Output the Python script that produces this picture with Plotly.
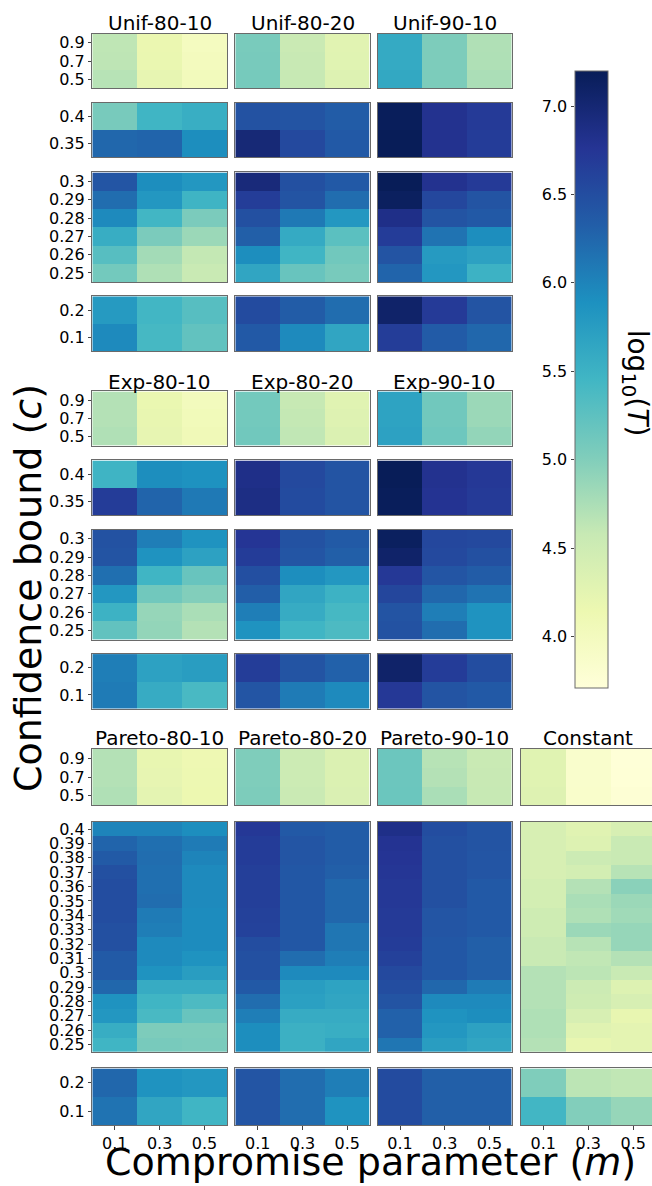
import plotly.graph_objects as go

W, H = 652, 1186
FONT = "DejaVu Sans"

# ---------------- labels ----------------
m_ticks = ["0.1", "0.3", "0.5"]
c_hi = ["0.9", "0.7", "0.5"]
c_mid = ["0.4", "0.35"]
c_low = ["0.3", "0.29", "0.28", "0.27", "0.26", "0.25"]
c_bot = ["0.2", "0.1"]
c_wide = ["0.4", "0.39", "0.38", "0.37", "0.36", "0.35", "0.34", "0.33",
          "0.32", "0.31", "0.3", "0.29", "0.28", "0.27", "0.26", "0.25"]

titles_unif = ["Unif-80-10", "Unif-80-20", "Unif-90-10"]
titles_exp = ["Exp-80-10", "Exp-80-20", "Exp-90-10"]
titles_par = ["Pareto-80-10", "Pareto-80-20", "Pareto-90-10", "Constant"]

# ---------------- data: log10(T), rows top->bottom, cols m=0.1,0.3,0.5 ----------------
unif_80_10_hi = [[4.63, 4.17, 3.98], [4.64, 4.18, 4.00], [4.68, 4.22, 4.03]]
unif_80_10_mid = [[5.07, 5.47, 5.55], [6.25, 6.28, 5.92]]
unif_80_10_low = [[6.42, 5.92, 5.82], [6.20, 5.82, 5.48], [5.95, 5.45, 5.05],
                  [5.56, 5.05, 4.85], [5.30, 4.80, 4.60], [5.10, 4.73, 4.56]]
unif_80_10_bot = [[5.78, 5.45, 5.30], [5.95, 5.42, 5.22]]

unif_80_20_hi = [[5.06, 4.55, 4.28], [5.07, 4.57, 4.30], [5.08, 4.58, 4.33]]
unif_80_20_mid = [[6.45, 6.43, 6.35], [6.98, 6.55, 6.38]]
unif_80_20_low = [[6.95, 6.47, 6.38], [6.67, 6.43, 6.20], [6.47, 6.10, 5.82],
                  [6.32, 5.60, 5.27], [5.92, 5.47, 5.12], [5.65, 5.18, 5.07]]
unif_80_20_bot = [[6.52, 6.35, 6.20], [6.38, 5.95, 5.65]]

unif_90_10_hi = [[5.60, 5.03, 4.72], [5.60, 5.03, 4.73], [5.62, 5.04, 4.75]]
unif_90_10_mid = [[7.18, 6.80, 6.70], [7.20, 6.80, 6.68]]
unif_90_10_low = [[7.20, 6.80, 6.70], [7.15, 6.57, 6.43], [6.85, 6.43, 6.38],
                  [6.68, 6.15, 5.92], [6.43, 5.78, 5.70], [6.28, 5.82, 5.50]]
unif_90_10_bot = [[7.08, 6.70, 6.43], [6.67, 6.36, 6.25]]

exp_80_10_hi = [[4.70, 4.18, 4.02], [4.70, 4.20, 4.05], [4.72, 4.22, 4.07]]
exp_80_10_mid = [[5.48, 5.92, 5.88], [6.68, 6.28, 6.10]]
exp_80_10_low = [[6.45, 6.05, 5.87], [6.43, 5.87, 5.70], [6.18, 5.47, 5.18],
                 [5.82, 5.12, 5.00], [5.50, 4.88, 4.76], [5.22, 4.90, 4.70]]
exp_80_10_bot = [[6.05, 5.70, 5.75], [6.08, 5.58, 5.40]]

exp_80_20_hi = [[5.10, 4.58, 4.30], [5.10, 4.60, 4.32], [5.12, 4.62, 4.35]]
exp_80_20_mid = [[6.85, 6.55, 6.43], [6.88, 6.53, 6.43]]
exp_80_20_low = [[6.75, 6.45, 6.37], [6.68, 6.42, 6.32], [6.48, 5.92, 5.82],
                 [6.33, 5.65, 5.50], [6.05, 5.58, 5.42], [5.87, 5.47, 5.37]]
exp_80_20_bot = [[6.67, 6.43, 6.30], [6.42, 6.08, 5.95]]

exp_90_10_hi = [[5.68, 5.12, 4.85], [5.68, 5.12, 4.85], [5.70, 5.14, 4.90]]
exp_90_10_mid = [[7.20, 6.80, 6.72], [7.18, 6.78, 6.70]]
exp_90_10_low = [[7.15, 6.57, 6.55], [7.08, 6.55, 6.47], [6.72, 6.42, 6.35],
                 [6.58, 6.25, 6.15], [6.43, 6.05, 5.87], [6.45, 6.20, 5.87]]
exp_90_10_bot = [[7.08, 6.68, 6.50], [6.72, 6.43, 6.38]]

pareto_80_10_hi = [[4.70, 4.20, 4.12], [4.70, 4.22, 4.14], [4.72, 4.25, 4.15]]
pareto_80_10_wide = [[6.00, 6.00, 5.92], [6.28, 6.18, 6.08], [6.37, 6.20, 6.00],
                     [6.47, 6.18, 5.95], [6.50, 6.18, 5.95], [6.50, 6.20, 5.95],
                     [6.50, 6.08, 5.93], [6.47, 6.05, 5.93], [6.47, 5.95, 5.93],
                     [6.37, 5.95, 5.87], [6.37, 5.87, 5.75], [6.25, 5.58, 5.58],
                     [5.87, 5.47, 5.37], [5.82, 5.40, 5.18], [5.56, 5.03, 5.03],
                     [5.47, 5.07, 5.05]]
pareto_80_10_bot = [[6.25, 5.87, 5.82], [6.15, 5.65, 5.47]]

pareto_80_20_hi = [[5.02, 4.52, 4.35], [5.02, 4.53, 4.35], [5.03, 4.55, 4.37]]
pareto_80_20_wide = [[6.72, 6.38, 6.35], [6.68, 6.42, 6.35], [6.68, 6.42, 6.35],
                     [6.65, 6.40, 6.32], [6.65, 6.40, 6.25], [6.65, 6.40, 6.25],
                     [6.63, 6.40, 6.25], [6.62, 6.40, 6.12], [6.50, 6.40, 6.12],
                     [6.47, 6.20, 6.05], [6.47, 5.95, 5.95], [6.38, 5.75, 5.68],
                     [6.20, 5.72, 5.65], [6.05, 5.58, 5.58], [5.92, 5.52, 5.55],
                     [5.92, 5.52, 5.65]]
pareto_80_20_bot = [[6.42, 6.20, 6.05], [6.42, 6.20, 5.87]]

pareto_90_10_hi = [[5.15, 4.68, 4.56], [5.15, 4.70, 4.57], [5.16, 4.76, 4.58]]
pareto_90_10_wide = [[6.85, 6.50, 6.43], [6.78, 6.47, 6.43], [6.76, 6.47, 6.42],
                     [6.74, 6.47, 6.42], [6.72, 6.47, 6.38], [6.72, 6.47, 6.38],
                     [6.70, 6.42, 6.38], [6.70, 6.42, 6.38], [6.68, 6.40, 6.32],
                     [6.63, 6.40, 6.32], [6.55, 6.40, 6.32], [6.50, 6.25, 6.08],
                     [6.43, 5.95, 5.95], [6.30, 5.87, 5.92], [6.30, 5.82, 5.70],
                     [6.12, 5.75, 5.65]]
pareto_90_10_bot = [[6.52, 6.32, 6.32], [6.52, 6.32, 6.32]]

constant_hi = [[4.30, 3.85, 3.73], [4.30, 3.85, 3.74], [4.32, 3.86, 3.76]]
constant_wide = [[4.40, 4.30, 4.40], [4.40, 4.33, 4.56], [4.40, 4.52, 4.56],
                 [4.40, 4.45, 4.68], [4.45, 4.70, 4.95], [4.45, 4.76, 4.85],
                 [4.50, 4.73, 4.82], [4.50, 4.85, 4.88], [4.56, 4.68, 4.88],
                 [4.56, 4.62, 4.70], [4.70, 4.65, 4.56], [4.70, 4.52, 4.33],
                 [4.70, 4.50, 4.40], [4.73, 4.40, 4.20], [4.73, 4.30, 4.25],
                 [4.70, 4.20, 4.25]]
constant_bot = [[5.02, 4.65, 4.62], [5.45, 5.00, 4.88]]

ZMIN, ZMAX = 3.71, 7.2
cbar_ticks = [4.0, 4.5, 5.0, 5.5, 6.0, 6.5, 7.0]

ylgnbu = ["#ffffd9", "#edf8b1", "#c7e9b4", "#7fcdbb", "#41b6c4",
          "#1d91c0", "#225ea8", "#253494", "#081d58"]
colorscale = [[i / (len(ylgnbu) - 1), c] for i, c in enumerate(ylgnbu)]

# ---------------- layout geometry (pixels) ----------------
col_px = [(92.3, 227.0), (235.3, 369.7), (377.7, 511.7), (520.7, 655.7)]
rows_unif = [(31.7, 86.7), (101.0, 156.0), (171.0, 281.0), (295.3, 350.3)]
rows_exp = [(390.7, 445.3), (460.0, 515.0), (529.3, 640.0), (654.3, 709.0)]
rows_par = [(749.3, 806.0), (822.7, 1053.3), (1070.0, 1127.3)]

panels = []  # (col, (y0,y1), z, labels, bottom)
unif = [
    [unif_80_10_hi, unif_80_10_mid, unif_80_10_low, unif_80_10_bot],
    [unif_80_20_hi, unif_80_20_mid, unif_80_20_low, unif_80_20_bot],
    [unif_90_10_hi, unif_90_10_mid, unif_90_10_low, unif_90_10_bot],
]
exp = [
    [exp_80_10_hi, exp_80_10_mid, exp_80_10_low, exp_80_10_bot],
    [exp_80_20_hi, exp_80_20_mid, exp_80_20_low, exp_80_20_bot],
    [exp_90_10_hi, exp_90_10_mid, exp_90_10_low, exp_90_10_bot],
]
par = [
    [pareto_80_10_hi, pareto_80_10_wide, pareto_80_10_bot],
    [pareto_80_20_hi, pareto_80_20_wide, pareto_80_20_bot],
    [pareto_90_10_hi, pareto_90_10_wide, pareto_90_10_bot],
    [constant_hi, constant_wide, constant_bot],
]
lab4 = [c_hi, c_mid, c_low, c_bot]
lab3 = [c_hi, c_wide, c_bot]
for ci, zs in enumerate(unif):
    for ri, z in enumerate(zs):
        panels.append((ci, rows_unif[ri], z, lab4[ri], False))
for ci, zs in enumerate(exp):
    for ri, z in enumerate(zs):
        panels.append((ci, rows_exp[ri], z, lab4[ri], False))
for ci, zs in enumerate(par):
    for ri, z in enumerate(zs):
        panels.append((ci, rows_par[ri], z, lab3[ri], ri == 2))

fig = go.Figure()
layout = {}
BORDER = "#6a6a6a"
for k, (ci, (y0, y1), z, labels, bottom) in enumerate(panels, start=1):
    x0, x1 = col_px[ci]
    xs = "" if k == 1 else str(k)
    n = len(labels)
    fig.add_trace(go.Heatmap(
        z=z, x=[0, 1, 2], y=list(range(n)), coloraxis="coloraxis",
        xaxis="x" + xs, yaxis="y" + xs, hoverinfo="skip"))
    clipped = x1 > W
    xr_max = -0.5 + 3 * (W - x0) / (x1 - x0) if clipped else 2.5
    layout["xaxis" + xs] = dict(
        domain=[x0 / W, min(x1, W) / W], anchor="y" + xs,
        range=[-0.5, xr_max], showgrid=False, zeroline=False,
        showline=True, mirror=True, linecolor=BORDER, linewidth=1,
        tickmode="array", tickvals=[0, 1, 2], ticktext=m_ticks,
        showticklabels=bottom, ticks="outside" if bottom else "",
        ticklen=3.5, tickcolor="#444", tickfont=dict(size=16, color="black"),
    )
    layout["yaxis" + xs] = dict(
        domain=[1 - y1 / H, 1 - y0 / H], anchor="x" + xs,
        range=[n - 0.5, -0.5], showgrid=False, zeroline=False,
        showline=True, mirror=not clipped, linecolor=BORDER, linewidth=1,
        tickmode="array", tickvals=list(range(n)), ticktext=labels,
        showticklabels=(ci == 0), ticks="outside" if ci == 0 else "",
        ticklen=3.5, tickcolor="#444", tickfont=dict(size=16, color="black"),
    )

# colorbar tick axis (to place tick labels on the left of the bar)
CB_X0, CB_X1, CB_Y0, CB_Y1 = 575.0, 608.0, 69.0, 688.0
kc = len(panels) + 1
fig.add_trace(go.Scatter(x=[None], y=[None], xaxis=f"x{kc}", yaxis=f"y{kc}",
                         showlegend=False, hoverinfo="skip"))
layout[f"xaxis{kc}"] = dict(domain=[CB_X0 / W, CB_X1 / W], anchor=f"y{kc}",
                            visible=False, range=[0, 1])
layout[f"yaxis{kc}"] = dict(
    domain=[1 - CB_Y1 / H, 1 - CB_Y0 / H], anchor=f"x{kc}", side="left",
    range=[ZMIN, ZMAX], showgrid=False, zeroline=False, showline=False,
    tickmode="array", tickvals=cbar_ticks, ticktext=[f"{v:.1f}" for v in cbar_ticks],
    ticks="outside", ticklen=3.5, tickcolor="#444",
    tickfont=dict(size=16, color="black"))

fig.update_layout(
    width=W, height=H, margin=dict(l=0, r=0, t=0, b=0),
    paper_bgcolor="white", plot_bgcolor="white",
    font=dict(family=FONT, color="black"),
    showlegend=False,
    coloraxis=dict(
        cmin=ZMIN, cmax=ZMAX, colorscale=colorscale,
        colorbar=dict(
            x=CB_X0 / W, xanchor="left", xpad=0,
            y=1 - (CB_Y0 + CB_Y1) / 2 / H, yanchor="middle", ypad=0,
            len=(CB_Y1 - CB_Y0) / H, lenmode="fraction",
            thickness=CB_X1 - CB_X0, thicknessmode="pixels",
            outlinewidth=1, outlinecolor=BORDER,
            ticks="", showticklabels=False,
        ),
    ),
    **layout,
)

ann = []
def title_ann(text, cx, cy, size=20):
    ann.append(dict(text=text, x=cx / W, y=1 - cy / H, xref="paper", yref="paper",
                    showarrow=False, xanchor="center", yanchor="middle",
                    font=dict(size=size, color="black", family=FONT)))

for ci, t in enumerate(titles_unif):
    title_ann(t, (col_px[ci][0] + col_px[ci][1]) / 2, 21)
for ci, t in enumerate(titles_exp):
    title_ann(t, (col_px[ci][0] + col_px[ci][1]) / 2, 381)
for ci, t in enumerate(titles_par):
    title_ann(t, (col_px[ci][0] + min(col_px[ci][1], W + 3)) / 2, 738)

title_ann("Compromise parameter (<i>m</i>)", 370, 1164, size=38)
ann.append(dict(text="Confidence bound (<i>c</i>)", x=28 / W, y=1 - 588 / H,
                xref="paper", yref="paper", showarrow=False, textangle=-90,
                xanchor="center", yanchor="middle",
                font=dict(size=38, color="black", family=FONT)))
ann.append(dict(text="log<sub>10</sub>(<i>T</i>)", x=635 / W, y=1 - 382 / H,
                xref="paper", yref="paper", showarrow=False, textangle=90,
                xanchor="center", yanchor="middle",
                font=dict(size=28, color="black", family=FONT)))
fig.update_layout(annotations=ann)

fig.write_html("out.html")
